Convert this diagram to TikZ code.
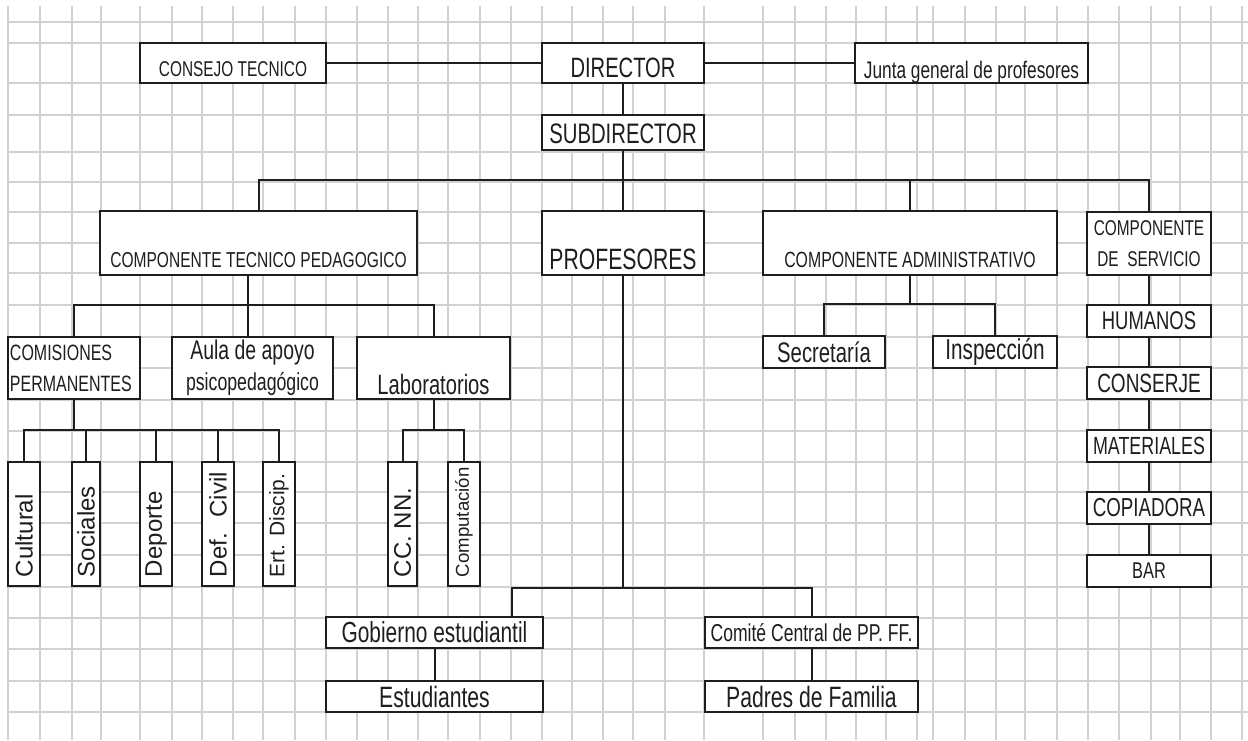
\documentclass[tikz,border=0pt]{standalone}
\usepackage{fontspec}
\usepackage{graphicx}
\setmainfont{Liberation Sans}
\newfontfamily\narrowfont[FakeStretch=0.72]{Liberation Sans}
\usepackage{tikz}
\usetikzlibrary{calc}
\definecolor{GridGray}{HTML}{D2D2D2}
\definecolor{LineDark}{HTML}{1E1E1E}
\newcommand{\fsz}[2][15.5]{\narrowfont\fontsize{#2}{#1}\selectfont}
\newcommand{\vtext}[2]{\rotatebox{90}{\makebox[53pt][l]{\fontsize{#1}{#1}\selectfont #2}}}
\tikzset{
  box/.style={draw=LineDark, line width=1pt, fill=white, inner sep=0pt, text=LineDark},
  lowtext/.style={text height=#1, text depth=0pt},
  vbox/.style={box, minimum height=62pt},
  link/.style={draw=LineDark, line width=1pt},
  gridline/.style={draw=GridGray, line width=1pt}
}

\begin{document}
\begin{tikzpicture}[x=0.5pt, y=-0.5pt]
  \useasboundingbox (0,0) rectangle (1248,740);
  % cuadricula
  \foreach \gx in {8,40,72,101,140,172,202,233,263,295,326,357,388,418,448,480,511,542,572,603,633,665,704,763,795,826,856,886,917,933,965,996,1025,1057,1088,1119,1151,1180,1211,1242}
    \draw[gridline] (\gx,6) -- (\gx,740);
  \foreach \gy in {22,43,83,115,152,182,212,243,273,305,337,368,400,431,462,492,523,555,587,618,649,681,712}
    \draw[gridline] (8,\gy) -- (1248,\gy);

  % direccion
  \node[box, minimum width=93pt, minimum height=20pt, lowtext=13.2pt, font=\fsz{10.7}] (consejo) at (233,63) {CONSEJO TECNICO};
  \node[box, minimum width=81pt, minimum height=20pt, lowtext=14pt, font=\fsz{14}] (director) at (623,63) {DIRECTOR};
  \node[box, minimum width=116.5pt, minimum height=20pt, lowtext=15.1pt, font=\fsz{12}] (junta) at (971.5,63) {Junta general de profesores};
  \node[box, minimum width=81pt, minimum height=17.5pt, lowtext=11.1pt, font=\fsz{14.1}] (subdir) at (623,132.5) {SUBDIRECTOR};

  % componentes
  \node[box, minimum width=158.5pt, minimum height=32pt, lowtext=24.7pt, font=\fsz{10.8}] (pedag) at (258.5,243) {COMPONENTE TECNICO PEDAGOGICO};
  \node[box, minimum width=81pt, minimum height=32pt, lowtext=26.5pt, font=\fsz{14.7}] (prof) at (623,243) {PROFESORES};
  \node[box, minimum width=147pt, minimum height=32pt, lowtext=24.9pt, font=\fsz{11}] (admin) at (910,243) {COMPONENTE ADMINISTRATIVO};
  \node[box, minimum width=62pt, minimum height=31.5pt, align=center, font=\fsz{10.7}] (serv) at (1149,243.5) {COMPONENTE\\DE\ \ SERVICIO};

  % tecnico pedagogico
  \node[box, minimum width=66pt, minimum height=31pt, text width=64pt, inner xsep=1pt, align=left, font=\fsz{11.1}] (comis) at (74,368) {COMISIONES\\PERMANENTES};
  \node[box, minimum width=80.5pt, minimum height=31pt, align=center, font=\fsz{12.3}] (aula) at (252.5,368) {{\fontsize{13.5}{15.5}\selectfont Aula de apoyo}\\psicopedagógico};
  \node[box, minimum width=76.5pt, minimum height=31pt, lowtext=26pt, font=\fsz{14}] (labs) at (433.5,368) {Laboratorios};

  \node[vbox, minimum width=16pt] (cult) at (24,524) {\vtext{12}{Cultural}};
  \node[vbox, minimum width=14pt] (soc) at (86,524) {\vtext{12}{Sociales}};
  \node[vbox, minimum width=16pt] (dep) at (156,524) {\vtext{12}{Deporte}};
  \node[vbox, minimum width=16pt] (def) at (218,524) {\vtext{12}{Def.~ Civil}};
  \node[vbox, minimum width=16pt] (ert) at (279,524) {\vtext{10.5}{Ert. Discip.}};
  \node[vbox, minimum width=14.5pt] (ccnn) at (402.5,524) {\vtext{12}{CC. NN.}};
  \node[vbox, minimum width=16pt] (comp) at (464,524) {\vtext{9.3}{Computación}};

  % administrativo y servicio
  \node[box, minimum width=61pt, minimum height=16pt, font=\fsz{14.1}] (secre) at (824,352) {Secretaría};
  \node[box, minimum width=62pt, minimum height=16pt, font=\fsz{14.4}] (insp) at (995,352) {Inspección};
  \foreach \nm/\yy/\sz/\txt in {hum/321/12.8/HUMANOS, cons/383/13.2/CONSERJE, mat/446/12.4/MATERIALES, cop/508/13/COPIADORA, bar/571/11.4/BAR}
    \node[box, minimum width=62pt, minimum height=16pt, font=\fsz{\sz}] (\nm) at (1149,\yy) {\txt};

  % estudiantes y padres
  \node[box, minimum width=108.5pt, minimum height=15.5pt, font=\fsz{14.5}] (gob) at (434.5,632.5) {Gobierno estudiantil};
  \node[box, minimum width=108.5pt, minimum height=15.5pt, font=\fsz{14.7}] (estud) at (434.5,696.5) {Estudiantes};
  \node[box, minimum width=106.5pt, minimum height=15.5pt, font=\fsz{12.2}] (comite) at (811.5,632.5) {Comité Central de PP. FF.};
  \node[box, minimum width=106.5pt, minimum height=15.5pt, font=\fsz{14.7}] (padres) at (811.5,696.5) {Padres de Familia};

  % conexiones
  \coordinate (topbus) at (623,180);
  \coordinate (pedbus) at (248,305);
  \coordinate (combus) at (74,430);
  \coordinate (labbus) at (433.5,430);
  \coordinate (admbus) at (910,304);
  \coordinate (profbus) at (623,588);
  \coordinate (gobbus) at (512,588);

  \draw[link] (consejo) -- (director);
  \draw[link] (director) -- (junta);
  \draw[link] (director) -- (subdir);
  \draw[link] (subdir) -- (prof);
  \draw[link] (pedag.north) |- (topbus) -| (serv.north);
  \draw[link] (admin.north) -- (admin.north |- topbus);
  \draw[link] (pedag.south -| pedbus) -- (pedbus);
  \draw[link] (comis.north) |- (pedbus) -| (labs.north);
  \draw[link] (aula.north -| pedbus) -- (pedbus);
  \draw[link] (comis.south) -- (combus);
  \draw[link] (cult.north) |- (combus) -| (ert.north);
  \foreach \nm in {soc,dep,def}
    \draw[link] (\nm.north) -- (\nm.north |- combus);
  \draw[link] (labs.south) -- (labbus);
  \draw[link] (ccnn.north) |- (labbus) -| (comp.north);
  \draw[link] (admin.south) -- (admbus);
  \draw[link] (secre.north) |- (admbus) -| (insp.north);
  \draw[link] (serv.south) -- (hum.north);
  \foreach \up/\dn in {hum/cons, cons/mat, mat/cop, cop/bar}
    \draw[link] (\up.south) -- (\dn.north);
  \draw[link] (prof.south) -- (profbus);
  \draw[link] (gob.north -| gobbus) |- (profbus) -| (comite.north);
  \draw[link] (gob) -- (estud);
  \draw[link] (comite) -- (padres);
\end{tikzpicture}
\end{document}
